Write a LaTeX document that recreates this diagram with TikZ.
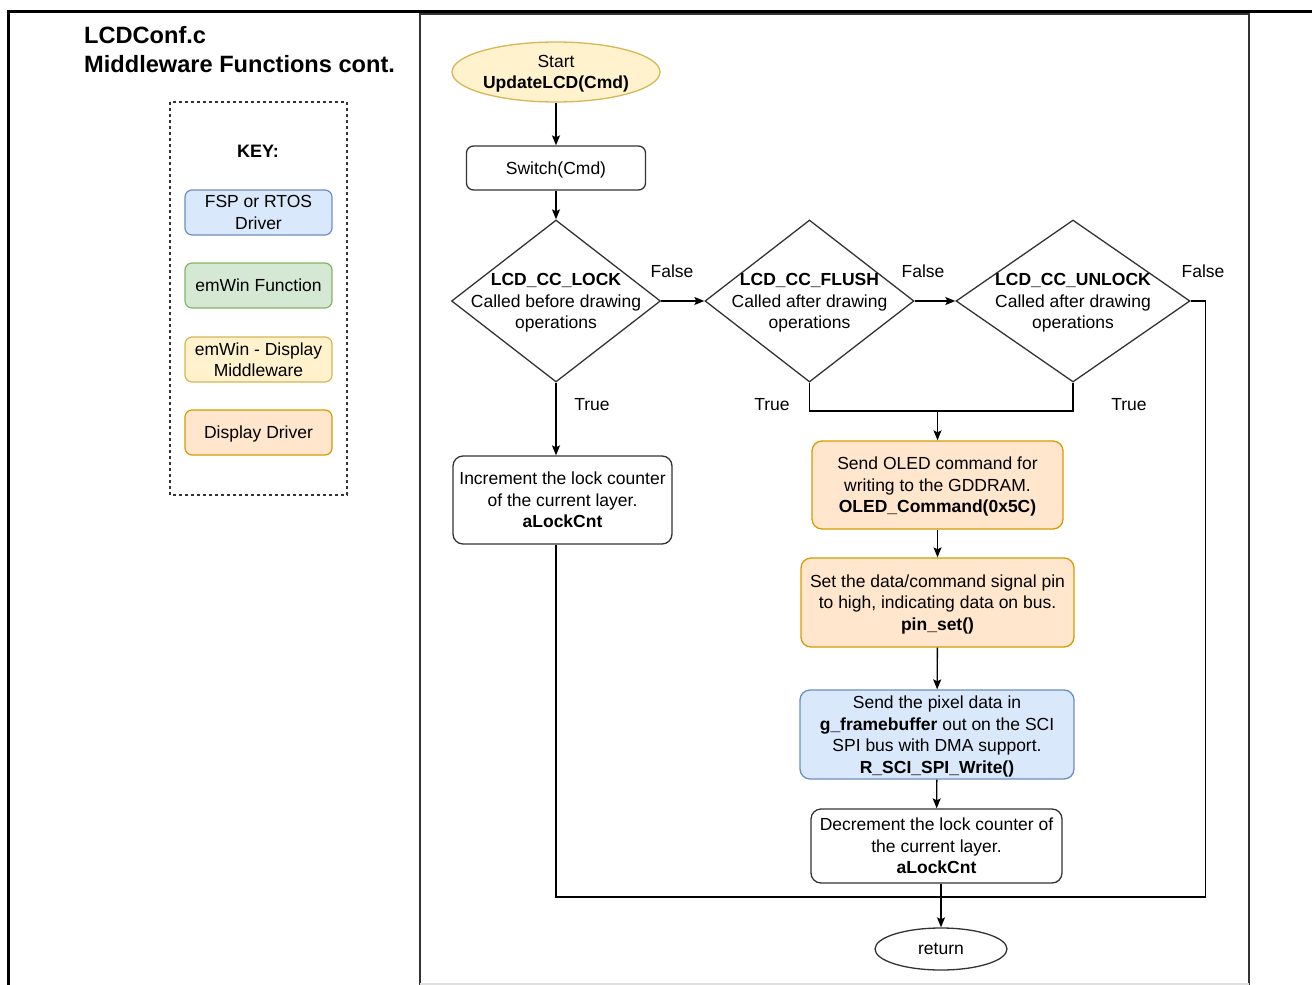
\documentclass[tikz,border=0pt]{standalone}
\usepackage{fontspec}
\setmainfont{Liberation Sans}
\usetikzlibrary{shapes.geometric,arrows.meta}

\definecolor{bluefill}{HTML}{DAE8FC}
\definecolor{bluedraw}{HTML}{6C8EBF}
\definecolor{greenfill}{HTML}{D5E8D4}
\definecolor{greendraw}{HTML}{82B366}
\definecolor{yellowfill}{HTML}{FFF2CC}
\definecolor{yellowdraw}{HTML}{D6B656}
\definecolor{orangefill}{HTML}{FFE6CC}
\definecolor{orangedraw}{HTML}{D79B00}
\definecolor{edge}{HTML}{333333}

\tikzset{
  txt/.style={font=\fontsize{17.5}{21.5}\selectfont, align=center, inner sep=0pt, text depth=0pt},
  box/.style={txt, draw=edge, line width=1.3pt, rectangle, rounded corners=10pt,
              fill=white, minimum width=#1},
  keybox/.style={txt, rectangle, rounded corners=7pt, line width=1.2pt,
                 minimum width=147pt, minimum height=45pt},
  decision/.style={diamond, draw=edge, line width=1.3pt, inner sep=0pt, fill=white},
  flow/.style={line width=1.4pt, black},
  arr/.style={flow, -{Stealth[length=10pt,width=8pt,inset=2pt]}},
  lbl/.style={txt},
}

\begin{document}
\begin{tikzpicture}[x=1pt,y=-1pt]
\useasboundingbox (0,0) rectangle (1312,985);

% page frames
\draw[line width=3pt, black] (8,985) -- (8,11) -- (1312,11);
\draw[line width=2pt, edge] (420,985) -- (420,14) -- (1249,14) -- (1249,985);
\draw[line width=2pt, black!12] (420,984) -- (1249,984);

% heading
\node[anchor=base west, inner sep=0pt, font=\fontsize{23.6}{27}\selectfont\bfseries] (t1) at (84,43) {LCDConf.c};
\node[anchor=base west, inner sep=0pt, font=\fontsize{23.6}{27}\selectfont\bfseries] (t2) at (84,72) {Middleware Functions cont.};

% legend
\draw[dashed, edge, line width=1.2pt] (170,102) rectangle (347,495);
\node[txt, font=\fontsize{18}{22}\selectfont\bfseries] (key) at (258,151) {KEY:};
\node[keybox, fill=bluefill, draw=bluedraw] (k1) at (258.5,212.5) {FSP or RTOS\\Driver};
\node[keybox, fill=greenfill, draw=greendraw] (k2) at (258.5,285.5) {emWin Function};
\node[keybox, fill=yellowfill, draw=yellowdraw] (k3) at (258.5,359.5) {emWin - Display\\Middleware};
\node[keybox, fill=orangefill, draw=orangedraw] (k4) at (258.5,432.5) {Display Driver};

% flowchart nodes
\node[txt, ellipse, draw=yellowdraw, fill=yellowfill, line width=1.3pt,
      minimum width=208pt, minimum height=60pt] (start) at (556,72)
      {Start\\\textbf{UpdateLCD(Cmd)}};
\node[box=179pt, minimum height=44pt, rounded corners=7pt] (sw) at (556,168) {Switch(Cmd)};

\node[decision, minimum width=209pt, minimum height=162pt] (d1) at (556,301) {};
\node[txt] (d1t) at (d1.center) {\textbf{LCD\_CC\_LOCK}\\Called before drawing\\operations};
\node[decision, minimum width=209pt, minimum height=162pt] (d2) at (809.5,301) {};
\node[txt] (d2t) at (d2.center) {\textbf{LCD\_CC\_FLUSH}\\Called after drawing\\operations};
\node[decision, minimum width=234pt, minimum height=162pt] (d3) at (1073,301) {};
\node[txt] (d3t) at (d3.center) {\textbf{LCD\_CC\_UNLOCK}\\Called after drawing\\operations};

\node[box=219pt, minimum height=88pt] (inc) at (562.5,500)
  {Increment the lock counter\\of the current layer.\\\textbf{aLockCnt}};
\node[box=251pt, minimum height=88pt, fill=orangefill, draw=orangedraw] (oled) at (937.5,485)
  {Send OLED command for\\writing to the GDDRAM.\\\textbf{OLED\_Command(0x5C)}};
\node[box=273pt, minimum height=89pt, fill=orangefill, draw=orangedraw] (pin) at (937.5,602.5)
  {Set the data/command signal pin\\to high, indicating data on bus.\\\textbf{pin\_set()}};
\node[box=274pt, minimum height=89pt, fill=bluefill, draw=bluedraw] (spi) at (937,734.5)
  {Send the pixel data in\\\textbf{g\_framebuffer} out on the SCI\\SPI bus with DMA support.\\\textbf{R\_SCI\_SPI\_Write()}};
\node[box=251pt, minimum height=74pt] (dec) at (936.5,846)
  {Decrement the lock counter of\\the current layer.\\\textbf{aLockCnt}};
\node[txt, ellipse, draw=edge, line width=1.3pt, fill=white,
      minimum width=132pt, minimum height=42pt] (ret) at (941,949) {return};

% junctions
\coordinate (mg) at (937.5,411);
\coordinate (jn) at (941,897);

% connectors
\draw[arr] (start) -- (sw);
\draw[arr] (sw) -- (d1);
\draw[arr] (d1.east) -- (d2.west);
\draw[arr] (d2.east) -- (d3.west);
\draw[arr] (d1.south) -- (inc.north -| d1.south);
\draw[flow] (d2.south) |- (mg);
\draw[flow] (d3.south) |- (mg);
\draw[arr] (mg) -- (oled.north);
\draw[arr] (oled) -- (pin);
\draw[arr] (pin) -- (spi);
\draw[arr] (spi) -- (dec);
\draw[flow] (d3.east) -- ++(15,0) |- (jn);
\draw[flow] (inc.south -| d1.south) |- (jn);
\draw[arr] (dec.south -| ret.north) -- (ret.north);

% branch labels
\node[lbl] (f1) at (672,271) {False};
\node[lbl] (f2) at (923,271) {False};
\node[lbl] (f3) at (1203,271) {False};
\node[lbl] (r1) at (592,404) {True};
\node[lbl] (r2) at (772,404) {True};
\node[lbl] (r3) at (1129,404) {True};
\end{tikzpicture}
\end{document}
